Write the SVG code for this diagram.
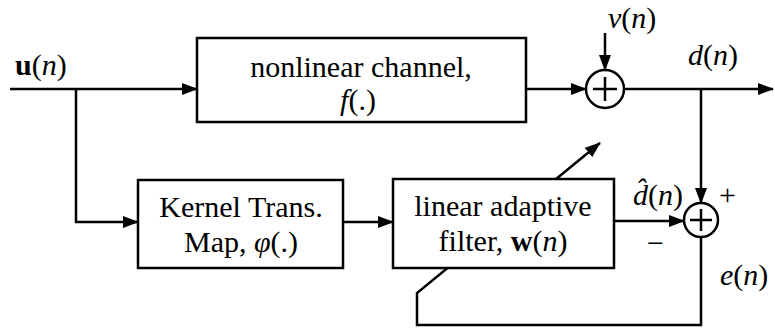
<svg xmlns="http://www.w3.org/2000/svg" width="775" height="329" viewBox="0 0 775 329">
<style>
.ln{fill:none;stroke:#000;stroke-width:2.5}
.bx{fill:#fff;stroke:#000;stroke-width:2.5}
.t{font-family:"Liberation Serif","Times New Roman",serif;font-size:30px;fill:#000}
.c{text-anchor:middle}
.i{font-style:italic}
.b{font-weight:bold}
</style>
<defs>
<marker id="ah" markerWidth="16" markerHeight="12" refX="15" refY="6" orient="auto" markerUnits="userSpaceOnUse">
<path d="M0,0 L16,6 L0,12 Z" fill="#000"/>
</marker>
</defs>
<rect width="775" height="329" fill="#fff"/>
<g id="connectors">
<path class="ln" d="M10,89 L197,89" marker-end="url(#ah)"/>
<path class="ln" d="M76,89 L76,222 L138,222" marker-end="url(#ah)"/>
<path class="ln" d="M526,89 L586,89" marker-end="url(#ah)"/>
<path class="ln" d="M605,33 L605,70" marker-end="url(#ah)"/>
<path class="ln" d="M624,89 L773,89" marker-end="url(#ah)"/>
<path class="ln" d="M701,89 L701,203" marker-end="url(#ah)"/>
<path class="ln" d="M343,222 L393,222" marker-end="url(#ah)"/>
<path class="ln" d="M614,221 L684,221" marker-end="url(#ah)"/>
<path class="ln" d="M701,237 L701,325 L417,325 L417,293 L600,143" marker-end="url(#ah)"/>
</g>
<g id="channel">
<rect class="bx" x="197" y="38" width="329" height="84"/>
<text class="t c" x="361" y="77">nonlinear channel,</text>
<text class="t c" x="358" y="110"><tspan class="i">f</tspan>(.)</text>
</g>
<g id="kernel">
<rect class="bx" x="138" y="180" width="205" height="88"/>
<text class="t c" x="241" y="217">Kernel Trans.</text>
<text class="t c" x="241" y="252">Map, <tspan class="i">φ</tspan>(.)</text>
</g>
<g id="filter">
<rect class="bx" x="393" y="179" width="221" height="89"/>
<text class="t c" x="503" y="216">linear adaptive</text>
<text class="t c" x="503" y="251">filter, <tspan class="b">w</tspan>(<tspan class="i">n</tspan>)</text>
</g>
<g id="sum1">
<circle class="bx" cx="605" cy="89" r="19"/>
<path class="ln" d="M605,77 L605,101 M593,89 L617,89" stroke-width="2"/>
</g>
<g id="sum2">
<circle class="bx" cx="701" cy="220" r="17"/>
<path class="ln" d="M701,209 L701,231 M690,220 L712,220" stroke-width="2"/>
</g>
<g id="labels">
<text class="t" x="15" y="75"><tspan class="b">u</tspan>(<tspan class="i">n</tspan>)</text>
<text class="t i" x="608" y="28">v<tspan font-style="normal">(</tspan>n<tspan font-style="normal">)</tspan></text>
<text class="t i" x="688" y="65">d<tspan font-style="normal">(</tspan>n<tspan font-style="normal">)</tspan></text>
<text class="t i" x="633" y="205">d̂<tspan font-style="normal">(</tspan>n<tspan font-style="normal">)</tspan></text>
<text class="t" x="719" y="205">+</text>
<text class="t" x="647" y="253">−</text>
<text class="t i" x="720" y="285">e<tspan font-style="normal">(</tspan>n<tspan font-style="normal">)</tspan></text>
</g>
</svg>
